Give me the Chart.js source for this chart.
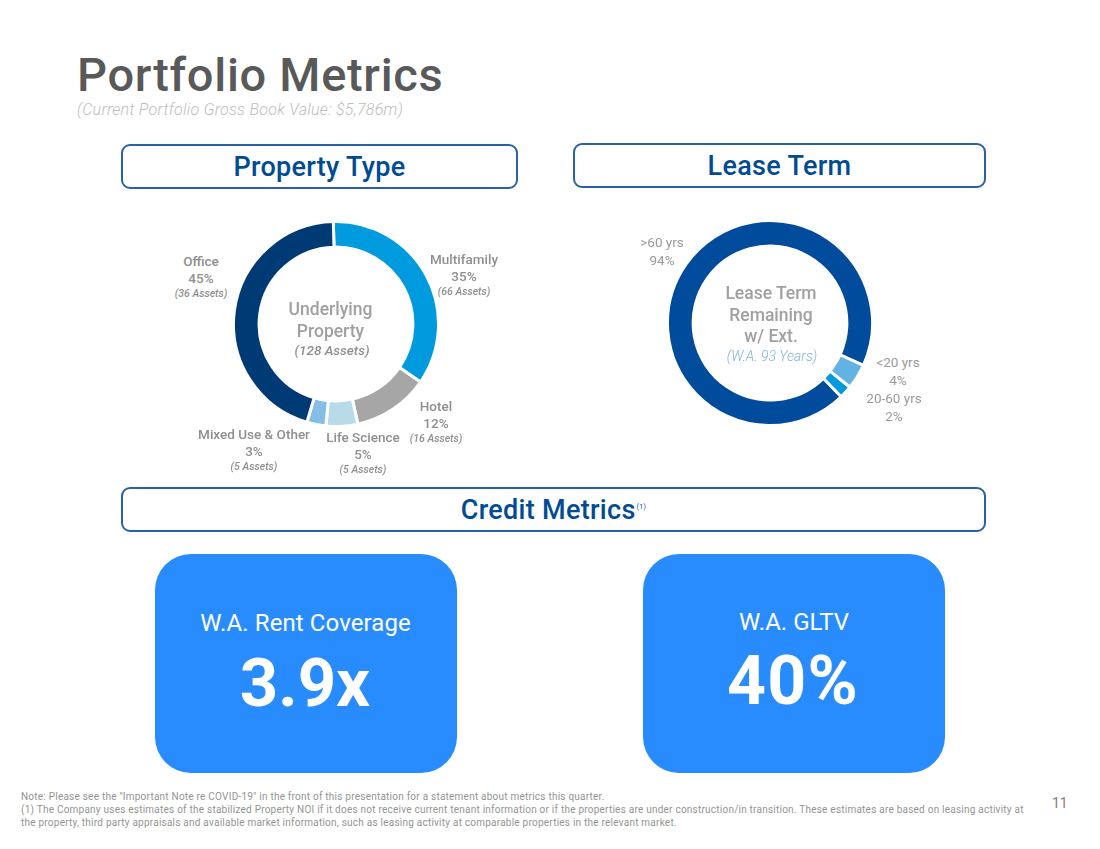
<!DOCTYPE html>
<html><head><meta charset="utf-8">
<script src="https://cdn.jsdelivr.net/npm/chart.js@4"></script>
<style>
html,body{margin:0;padding:0;background:#fff;width:1100px;height:849px;overflow:hidden}
body{position:relative;font-family:Roboto,sans-serif}
.t{position:absolute;white-space:nowrap;transform:translateX(-50%);text-align:center}
.l{position:absolute;white-space:nowrap}
.hd{position:absolute;box-sizing:border-box;border:2px solid #2a60a6;border-radius:9px;background:#fff;color:#004b93;font-size:27px;font-weight:500;letter-spacing:.3px;display:flex;align-items:center;justify-content:center;padding-top:1px}
.hd sup{font-size:7px;font-weight:400;margin-left:1px;position:relative;top:-3px}
.card{position:absolute;background:#288cff;border-radius:36px;color:#fff}
canvas{position:absolute}
.lb{color:#8f8f8f;font-size:13.5px;line-height:17px;font-weight:500}
.lg{color:#9a9a9a;font-size:13.5px;line-height:17.5px}
.as{font-style:italic;font-size:10.5px;font-weight:500;color:#8f8f8f;line-height:13px;display:block;position:relative;top:0}
.ctr{color:#a0a0a0;font-size:17.5px;font-weight:500;line-height:21.5px}
.note{color:#949494;font-size:10px;line-height:13px;letter-spacing:.23px}
</style></head><body>
<div class="l" style="left:77px;top:49px;font-size:47px;font-weight:500;color:#595959;letter-spacing:.7px;line-height:52px">Portfolio Metrics</div>
<div class="l" style="left:77px;top:101px;font-size:16px;font-style:italic;font-weight:300;color:#bdbdbd;letter-spacing:.28px;line-height:18px">(Current Portfolio Gross Book Value: $5,786m)</div>

<div class="hd" style="left:121px;top:144px;width:397px;height:45px">Property Type</div>
<div class="hd" style="left:573px;top:143px;width:413px;height:45px">Lease Term</div>
<div class="hd" style="left:121px;top:487px;width:865px;height:45px">Credit Metrics<sup>(1)</sup></div>

<canvas id="c1" width="208" height="208" style="left:232px;top:220px"></canvas>
<canvas id="c2" width="208" height="208" style="left:666px;top:219px"></canvas>

<div class="t ctr" style="left:330.5px;top:299px">Underlying<br>Property</div>
<div class="t" style="left:332px;top:341px;font-size:13.5px;font-style:italic;font-weight:500;color:#8f8f8f;line-height:18px">(128 Assets)</div>

<div class="t ctr" style="left:771px;top:283px">Lease Term<br>Remaining<br>w/ Ext.</div>
<div class="t" style="left:772px;top:347px;font-size:14px;font-style:italic;font-weight:300;color:#7fb2dd;line-height:18px">(W.A. 93 Years)</div>

<div id="labels1"></div>
<div id="labels2"></div>

<div class="card" style="left:155px;top:554px;width:302px;height:219px"></div>
<div class="card" style="left:643px;top:554px;width:302px;height:219px"></div>
<div class="t" style="left:305.5px;top:608px;color:#fff;font-size:24px;line-height:30px;letter-spacing:.1px">W.A. Rent Coverage</div>
<div class="t" style="left:794px;top:607px;color:#fff;font-size:24px;line-height:30px">W.A. GLTV</div>
<div class="t" style="left:305px;top:643px;color:#fff;font-size:67px;font-weight:700;line-height:80px">3.9x</div>
<div class="t" style="left:793px;top:641px;color:#fff;font-size:68px;font-weight:700;line-height:80px;letter-spacing:1.2px">40%</div>

<div class="l note" style="left:21px;top:790px">Note: Please see the "Important Note re COVID-19" in the front of this presentation for a statement about metrics this quarter.<br>(1) The Company uses estimates of the stabilized Property NOI if it does not receive current tenant information or if the properties are under construction/in transition. These estimates are based on leasing activity at<br>the property, third party appraisals and available market information, such as leasing activity at comparable properties in the relevant market.</div>
<div class="l" style="left:1052px;top:795px;font-size:14px;color:#808080;line-height:17px">11</div>

<script>
const propertyTypes = ["Multifamily","Hotel","Life Science","Mixed Use & Other","Office"];
const propertyValues = [35,12,5,3,45];
const propertyAssets = ["(66 Assets)","(16 Assets)","(5 Assets)","(5 Assets)","(36 Assets)"];
const propertyColors = ["#009bde","#a6a6a6","#b7dce8","#85bde6","#003a75"];
const propertyLabelX = [464,436,363,254,201];
const propertyLabelY = [251,398,429,426,253];

const leaseTerms = [">60 yrs","<20 yrs","20-60 yrs"];
const leaseValues = [94,4,2];
const leaseColors = ["#004b9b","#62b3e3","#009bde"];
const leaseLabelX = [662,898,894];
const leaseLabelY = [234,354,390];

const common = {responsive:false,animation:false,cutout:"75%",
  plugins:{legend:{display:false},tooltip:{enabled:false}},layout:{padding:0},
  elements:{arc:{borderColor:"#fff",borderWidth:3}}};

new Chart(document.getElementById("c1"),{type:"doughnut",
  data:{labels:propertyTypes,datasets:[{data:propertyValues,backgroundColor:propertyColors}]},
  options:Object.assign({},common,{rotation:-1.5})});
new Chart(document.getElementById("c2"),{type:"doughnut",
  data:{labels:leaseTerms,datasets:[{data:leaseValues,backgroundColor:leaseColors}]},
  options:Object.assign({},common,{rotation:136})});

const esc = s => s.replace(/&/g,"&amp;").replace(/</g,"&lt;");
document.getElementById("labels1").innerHTML = propertyTypes.map((n,i)=>
  `<div class="t lb" style="left:${propertyLabelX[i]}px;top:${propertyLabelY[i]}px">${esc(n)}<br>${propertyValues[i]}%<span class="as">${propertyAssets[i]}</span></div>`).join("");
document.getElementById("labels2").innerHTML = leaseTerms.map((n,i)=>
  `<div class="t lg" style="left:${leaseLabelX[i]}px;top:${leaseLabelY[i]}px">${esc(n)}<br>${leaseValues[i]}%</div>`).join("");
</script>
</body></html>
